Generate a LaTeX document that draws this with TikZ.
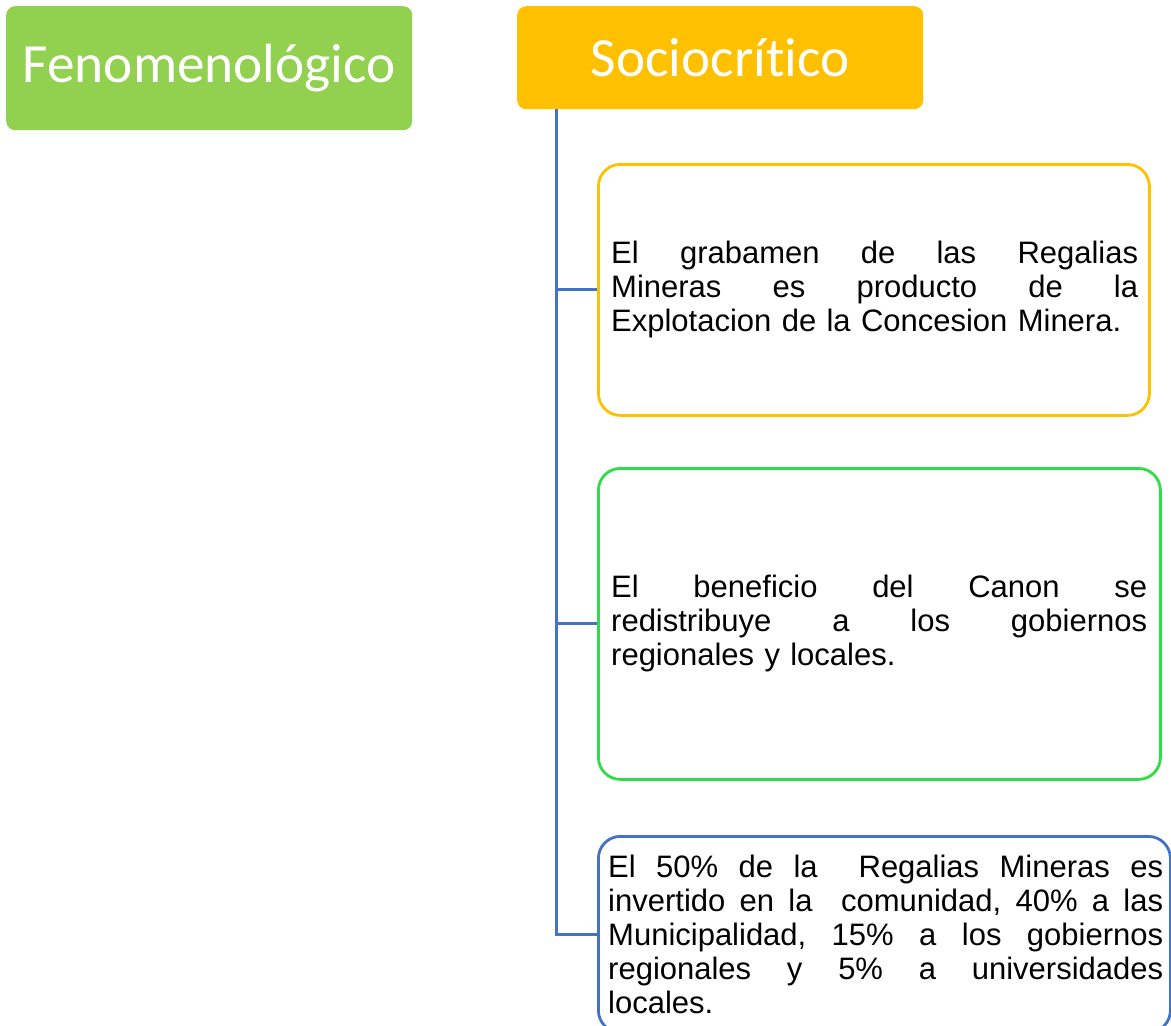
\documentclass[tikz,border=0pt]{standalone}
\usepackage{fontspec}
\setmainfont{Liberation Sans}
\newfontfamily\hdrfont[Ligatures=CommonOff]{Carlito}
\definecolor{hgreen}{HTML}{92D050}
\definecolor{hyellow}{HTML}{FFC000}
\definecolor{lblue}{HTML}{4472C4}
\definecolor{bgreen}{RGB}{46,222,72}
\newcommand{\jl}[2]{\leavevmode\hbox to #1{\spaceskip=\fontdimen2\font plus 1fil\relax #2}}
\tikzset{
  hdr/.style={rounded corners=9pt, anchor=north west, text=white,
    font=\hdrfont\fontsize{55.3pt}{60pt}\selectfont, inner sep=0pt},
  card/.style={draw, line width=2.8pt, rounded corners=22pt, anchor=north west, inner sep=0pt},
  txt/.style={anchor=west, inner sep=0pt, align=left,
    font=\fontsize{31pt}{34pt}\selectfont\frenchspacing},
  conn/.style={draw=lblue, line width=3pt}
}
\begin{document}
\begin{tikzpicture}[x=1pt,y=-1pt]
\useasboundingbox (0,0) rectangle (1171,1026);
\node[hdr, fill=hgreen, minimum width=406pt, minimum height=124pt] (fen) at (6,6) {Fenomenológico};
\node[hdr, fill=hyellow, minimum width=406pt, minimum height=103pt] (soc) at (517,6) {Sociocrítico};
\node[card, draw=hyellow, minimum width=551pt, minimum height=251pt] (b1) at (597,163) {};
\node[card, draw=bgreen, minimum width=562pt, minimum height=311pt] (b2) at (597,467) {};
\node[card, draw=lblue, minimum width=572pt, minimum height=196pt] (b3) at (597,835) {};
\coordinate (trunk) at ([xshift=39pt]soc.south west);
\draw[conn] (trunk) |- (b3.west);
\draw[conn] (trunk |- b1.west) -- (b1.west);
\draw[conn] (trunk |- b2.west) -- (b2.west);
\node[txt, text width=527pt] (t1) at ([xshift=14pt]b1.west) {\noindent
\jl{527pt}{El grabamen de las Regalias}\\
\jl{527pt}{Mineras es producto de la}\\
Explotacion de la Concesion Minera.};
\node[txt, text width=536pt] (t2) at ([xshift=14pt]b2.west) {\noindent
\jl{536pt}{El beneficio del Canon se}\\
\jl{536pt}{redistribuye a los gobiernos}\\
regionales y locales.};
\node[txt, text width=555pt] (t3) at ([xshift=11pt]b3.west) {\noindent
\jl{555pt}{El 50\% de la\ \ Regalias Mineras es}\\
\jl{555pt}{invertido en la\ \ comunidad, 40\% a las}\\
\jl{555pt}{Municipalidad, 15\% a los gobiernos}\\
\jl{555pt}{regionales y 5\% a universidades}\\
locales.};
\end{tikzpicture}
\end{document}
